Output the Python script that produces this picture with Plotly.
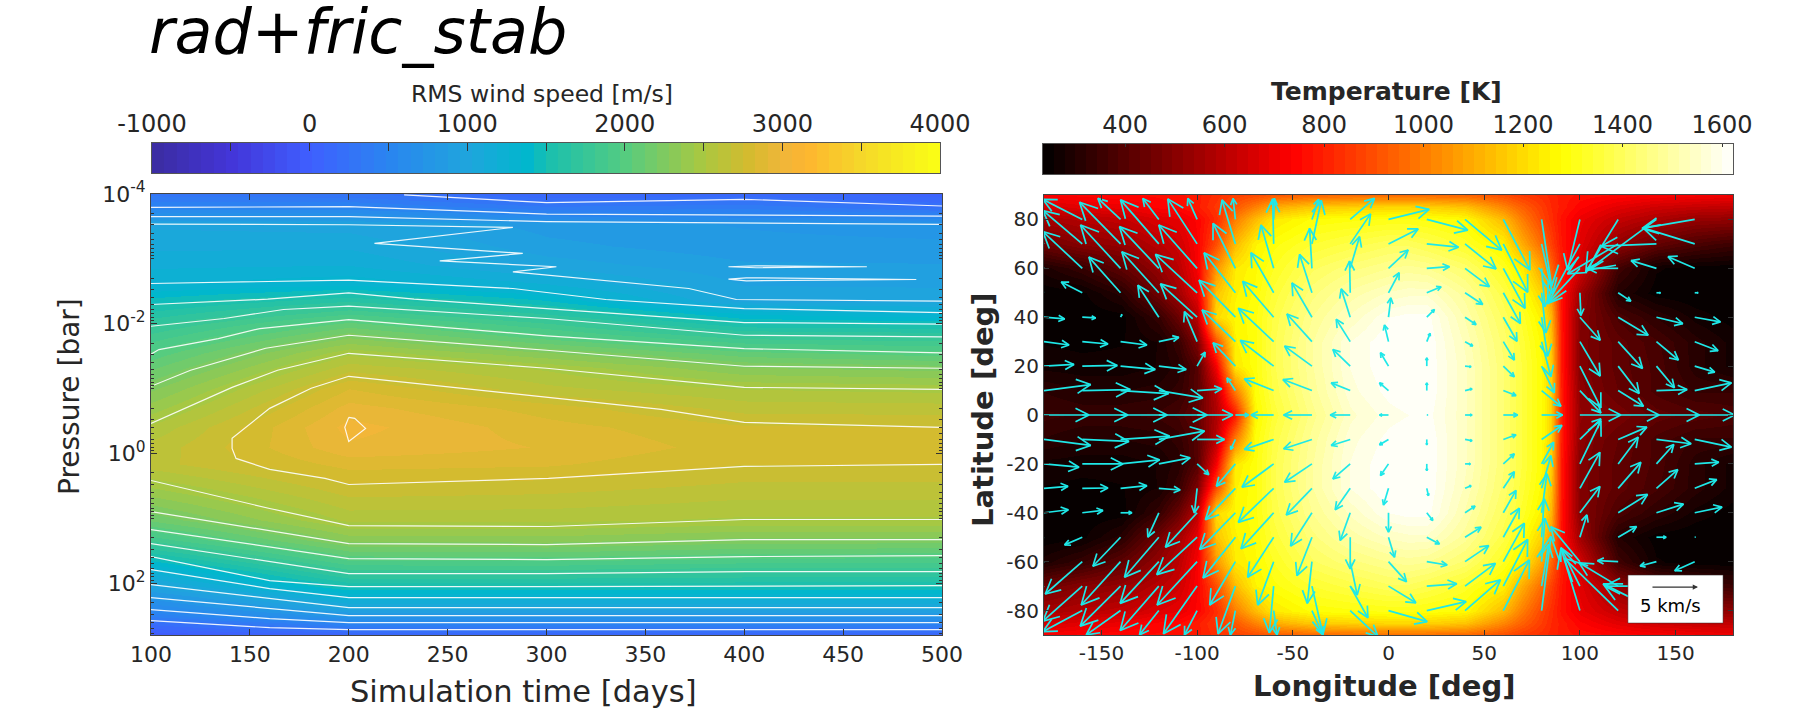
import numpy as np
import plotly.graph_objects as go

# ---------- left panel data ----------
sim_time_days = [100, 200, 300, 400, 500]
log_pressure = [-4.0, -3.8, -3.65, -3.53, -3.2, -2.9, -2.6, -2.35, -2.17, -2.0, -1.8, -1.55, -1.31, -1.0, -0.7,
                -0.4, -0.1, 0.17, 0.6, 1.02, 1.33, 1.58, 1.82, 2.04, 2.22, 2.38, 2.5, 2.61, 2.72, 2.8]
rms_t100 = [300, 490, 750, 1015, 1090, 1170, 1265, 1460, 1595, 1720, 1845, 1990, 2110, 2265, 2395,
            2530, 2620, 2640, 2400, 2140, 1835, 1515, 1220, 985, 755, 565, 425, 205, 60, -60]
rms_t200 = [270, 505, 750, 990, 1095, 1185, 1340, 1650, 1870, 2075, 2270, 2495, 2640, 2830, 2940,
            3015, 2970, 2860, 2700, 2535, 2305, 2045, 1785, 1515, 1255, 1000, 755, 500, 250, 60]
rms_t300 = [100, 340, 590, 840, 900, 1000, 1200, 1430, 1640, 1825, 2010, 2290, 2500, 2620, 2790,
            2860, 2900, 2840, 2680, 2535, 2315, 2060, 1785, 1515, 1255, 1000, 755, 500, 250, 60]
rms_t400 = [130, 380, 560, 790, 824, 888, 952, 1005, 1325, 1520, 1780, 2075, 2290, 2515, 2640,
            2760, 2790, 2750, 2625, 2500, 2250, 2010, 1750, 1515, 1255, 1000, 755, 500, 250, 60]
rms_t500 = [50, 235, 520, 750, 820, 880, 945, 1000, 1250, 1490, 1750, 2000, 2250, 2490, 2630,
            2750, 2780, 2750, 2625, 2500, 2250, 1995, 1750, 1500, 1255, 1000, 755, 500, 250, 60]

# white contour lines: (time [days], log10 pressure [bar])
contour_lines = [
    ([228, 300, 400, 500], [-3.985, -3.866, -3.918, -3.815]),
    ([100, 200, 300, 400, 500], [-3.794, -3.804, -3.691, -3.681, -3.660]),
    ([100, 200, 300, 400, 500], [-3.650, -3.650, -3.573, -3.547, -3.531]),
    ([100, 200, 283, 213, 288, 246, 305, 283, 372, 396, 500],
     [-3.537, -3.526, -3.485, -3.238, -3.084, -2.970, -2.878, -2.800, -2.543, -2.373, -2.347]),
    ([392, 406, 462, 406, 392], [-2.878, -2.893, -2.878, -2.863, -2.878]),
    ([392, 401, 487, 401, 392], [-2.687, -2.708, -2.682, -2.661, -2.687]),
    ([100, 200, 283, 330, 400, 500], [-2.620, -2.672, -2.543, -2.373, -2.234, -2.172]),
    ([100, 159, 200, 233, 300, 400, 500], [-2.296, -2.378, -2.476, -2.378, -2.234, -2.018, -1.992]),
    ([100, 137, 167, 200, 300, 400, 500], [-1.961, -2.080, -2.219, -2.270, -2.080, -1.822, -1.797]),
    ([100, 104, 134, 155, 200, 300, 400, 500], [-1.529, -1.601, -1.771, -1.925, -2.064, -1.812, -1.616, -1.549]),
    ([100, 120, 158, 200, 300, 400, 500], [-1.035, -1.282, -1.622, -1.822, -1.591, -1.344, -1.313]),
    ([100, 141, 164, 200, 300, 400, 500], [-0.463, -1.019, -1.282, -1.544, -1.313, -1.019, -0.988]),
    ([500, 400, 358, 301, 200, 181, 160, 141, 141, 143, 160, 188, 200, 301, 400, 500],
     [-0.402, -0.479, -0.680, -0.865, -1.189, -1.004, -0.695, -0.232, -0.077, 0.077, 0.247, 0.386, 0.479, 0.386,
      0.201, 0.170]),
    ([200, 203, 208.5, 200, 198, 200], [-0.556, -0.541, -0.386, -0.185, -0.402, -0.556]),
    ([100, 160, 200, 301, 400, 500], [0.417, 0.849, 1.112, 1.127, 1.019, 1.019]),
    ([100, 200, 300, 400, 500], [0.896, 1.390, 1.405, 1.328, 1.328]),
    ([100, 200, 300, 400, 500], [1.174, 1.622, 1.637, 1.591, 1.575]),
    ([100, 200, 300, 400, 500], [1.390, 1.853, 1.853, 1.822, 1.822]),
    ([100, 160, 200, 300, 500], [1.591, 1.961, 2.054, 2.054, 2.039]),
    ([100, 160, 200, 500], [1.792, 2.085, 2.224, 2.224]),
    ([100, 160, 200, 500], [2.023, 2.239, 2.378, 2.378]),
    ([100, 160, 200, 500], [2.224, 2.394, 2.502, 2.502]),
    ([100, 160, 200, 500], [2.409, 2.548, 2.610, 2.610]),
    ([100, 160, 200, 500], [2.579, 2.687, 2.718, 2.718]),
]

# ---------- right panel data ----------
map_lon = [-180, -160, -140, -120, -110, -100, -90, -80, -70, -60, -40, -20, 0, 10, 20, 40, 60, 70, 80, 85, 90,
           100, 110, 120, 140, 160, 180]
t_lat0 = [350, 340, 340, 350, 370, 430, 570, 780, 1260, 1350, 1460, 1550, 1590, 1600, 1610, 1540, 1430, 1360, 1275, 1180, 800, 520, 500, 470, 420, 400, 380]
t_lat10 = [320, 300, 300, 310, 330, 400, 600, 1000, 1280, 1370, 1480, 1570, 1610, 1620, 1620, 1540, 1430, 1360, 1275, 1180, 800, 510, 460, 430, 380, 340, 340]
t_lat20 = [270, 265, 265, 280, 310, 400, 720, 1230, 1290, 1380, 1490, 1580, 1620, 1620, 1620, 1540, 1430, 1360, 1275, 1170, 790, 490, 450, 420, 380, 310, 270]
t_lat30 = [255, 250, 255, 280, 340, 480, 900, 1250, 1290, 1380, 1490, 1580, 1620, 1620, 1620, 1530, 1420, 1350, 1265, 1150, 790, 490, 450, 420, 370, 310, 270]
t_lat40 = [240, 240, 245, 340, 440, 600, 1200, 1260, 1290, 1370, 1470, 1540, 1600, 1610, 1610, 1510, 1400, 1330, 1240, 1120, 780, 500, 440, 380, 320, 270, 245]
t_lat50 = [240, 250, 310, 460, 550, 690, 1150, 1250, 1280, 1350, 1440, 1500, 1540, 1550, 1550, 1480, 1370, 1290, 1180, 1050, 770, 550, 420, 300, 245, 235, 235]
t_lat60 = [290, 340, 420, 530, 600, 720, 1050, 1230, 1270, 1320, 1400, 1440, 1470, 1480, 1470, 1420, 1320, 1240, 1080, 950, 800, 650, 500, 360, 260, 245, 240]
t_lat70 = [450, 500, 530, 600, 640, 730, 900, 1130, 1250, 1290, 1340, 1370, 1400, 1400, 1380, 1330, 1250, 1100, 960, 870, 780, 680, 600, 520, 430, 380, 350]
t_lat80 = [560, 590, 620, 670, 690, 740, 830, 1000, 1130, 1230, 1280, 1290, 1300, 1300, 1290, 1270, 1130, 1000, 880, 830, 770, 700, 660, 620, 570, 530, 520]
t_lat85 = [650, 680, 700, 740, 750, 790, 850, 920, 1010, 1100, 1160, 1180, 1190, 1190, 1180, 1150, 1020, 940, 860, 820, 790, 740, 710, 680, 640, 620, 610]
t_lat90 = [730, 740, 750, 760, 770, 790, 830, 870, 890, 920, 950, 960, 960, 960, 960, 950, 900, 860, 830, 810, 790, 770, 760, 750, 730, 720, 710]
map_lat_north = [0, 10, 20, 30, 40, 50, 60, 70, 80, 85, 90]

# wind vectors: rows lat 80 -> -80, columns lon -180 -> 160
wind_lon = [-180, -160, -140, -120, -100, -80, -60, -40, -20, 0, 20, 40, 60, 80, 100, 120, 140, 160]
wind_lat = [80, 70, 60, 50, 40, 30, 20, 10, 0, -10, -20, -30, -40, -50, -60, -70, -80]
READ_UNIT_KMS = 5 / 147  # km/s per unit of the two tables below
wind_u = [
    [-100, -118, -68, -48, -28, -7, 2, 20, 73, 122, 123, 110, 80, 30, -37, -97, -206, -158],
    [-100, -118, -123, -115, -88, -40, -3, 28, 61, 89, 95, 93, 73, 33, -97, -152, -166, -155],
    [-100, -118, -120, -118, -115, -67, -38, -7, 28, 59, 68, 73, 65, 10, -97, -92, -76, -80],
    [-60, -63, -95, -111, -125, -94, -68, -37, -2, 32, 43, 53, 51, 13, 3, 38, 12, 10],
    [62, 40, 4, -63, -110, -109, -93, -60, -27, 7, 23, 33, 41, 18, 61, 90, 79, 77],
    [75, 77, 79, 60, -38, -100, -106, -75, -42, -12, 10, 23, 33, 28, 61, 73, 66, 70],
    [90, 105, 104, 82, 24, -67, -100, -82, -52, -24, 0, 18, 33, 38, 63, 63, 54, 60],
    [140, 144, 144, 132, 74, -25, -88, -87, -57, -27, 0, 21, 38, 58, 63, 76, 92, 110],
    [135, 137, 140, 145, 107, 40, -68, -85, -60, -27, 3, 21, 43, 63, 123, 123, 129, 120],
    [140, 140, 147, 137, 82, -14, -88, -85, -57, -27, 0, 21, 38, 61, 63, 86, 104, 110],
    [105, 122, 117, 94, 35, -57, -95, -82, -52, -24, 0, 16, 33, 36, 63, 60, 52, 72],
    [72, 77, 79, 64, -8, -90, -106, -77, -45, -15, 5, 18, 33, 28, 60, 68, 64, 66],
    [73, 62, 34, -33, -95, -107, -98, -64, -30, 0, 18, 30, 38, 16, 60, 88, 81, 82],
    [-60, -53, -83, -103, -121, -97, -78, -45, 0, 18, 38, 48, 48, 8, 21, 55, 29, 2],
    [-100, -111, -118, -116, -120, -77, -48, -14, 21, 54, 61, 71, 63, 10, -87, -62, -49, -60],
    [-100, -118, -121, -116, -101, -52, -13, 33, 53, 82, 90, 91, 73, 21, -57, -117, -156, -150],
    [-100, -118, -103, -58, -38, -15, 10, 33, 83, 116, 118, 106, 78, 28, -57, -162, -160, -160],
]
wind_v = [
    [50, 60, 63, 63, 63, 63, 63, 60, 63, 30, -32, -92, -152, -200, -152, -157, -152, -27],
    [90, 100, 125, 132, 135, 132, 135, 130, 90, 45, -10, -75, -145, -150, -180, -90, -7, 48],
    [90, 110, 130, 125, 130, 135, 130, 120, 95, 55, 5, -55, -120, -115, -105, 0, 23, 35],
    [25, 32, 107, 123, 115, 120, 120, 115, 95, 60, 18, -35, -92, -120, -68, -25, 0, 0],
    [-5, -2, 8, 96, 100, 111, 108, 103, 85, 58, 23, -22, -72, -117, -69, -54, -19, -14],
    [-10, -7, -10, 13, 90, 95, 100, 83, 67, 50, 25, -13, -55, -105, -103, -80, -55, -27],
    [5, 2, -10, -10, 42, 70, 77, 60, 50, 40, 25, -2, -32, -80, -125, -82, -65, -18],
    [18, 3, -9, -22, 5, 38, 35, 33, 23, 23, 23, 5, -15, -47, -67, -47, 3, 23],
    [0, 0, 0, 0, 0, 0, 0, 0, 0, 0, 0, 0, 0, 0, 0, 0, 0, 0],
    [-18, -6, 10, 25, 0, -30, -30, -28, -18, -16, -16, -4, 14, 42, 62, 37, -13, -23],
    [-10, 0, 12, 18, -32, -67, -70, -55, -45, -35, -20, 0, 30, 65, 130, 80, 58, 5],
    [6, 1, 8, -5, -74, -94, -102, -80, -64, -50, -22, 8, 50, 98, 108, 78, 56, 26],
    [9, 7, 0, -73, -103, -110, -108, -100, -83, -58, -23, 20, 67, 117, 79, 55, 26, 17],
    [-25, -23, -87, -120, -112, -122, -120, -115, -95, -60, -20, 30, 87, 115, 67, 32, 0, 0],
    [-90, -97, -130, -125, -130, -130, -130, -125, -100, -60, -10, 48, 115, 130, 105, 3, -13, -27],
    [-90, -105, -120, -133, -143, -143, -140, -145, -95, -50, 7, 68, 140, 125, 115, 70, 0, -40],
    [-50, -63, -73, -73, -73, -73, -73, -73, -78, -33, 27, 92, 152, 222, 187, 157, 80, 30],
]

# colour anchors and colour bar ticks
rms_cbar_vals = [-1000, -500, 0, 500, 1000, 1400, 1500, 2000, 2500, 2800, 3000, 3150, 3500, 4000]
rms_cbar_cols = ["#3b2ca0", "#4335d8", "#3f5fff", "#2a85f0", "#1fa5dd", "#00b8cc", "#18bfb0", "#55cc80",
                 "#aac840", "#d6ba2e", "#f0b63a", "#feb52f", "#f5d82a", "#faff14"]
rms_cbar_ticks = [-1000, 0, 1000, 2000, 3000, 4000]
rms_cbar_minor = [-500, 500, 1500, 2500, 3500]
temp_cbar_vals = [235, 737, 1275, 1622]
temp_cbar_cols = ["#000000", "#ff0000", "#ffff00", "#ffffff"]
temp_cbar_ticks = [400, 600, 800, 1000, 1200, 1400, 1600]
N_STEPS = 64


def stepped(vals, cols, n=N_STEPS):
    rgb = np.array([[int(c[i:i + 2], 16) for i in (1, 3, 5)] for c in cols], float)
    f = (np.array(vals, float) - vals[0]) / (vals[-1] - vals[0])
    out = []
    for i in range(n):
        m = (i + 0.5) / n
        c = [int(round(np.interp(m, f, rgb[:, k]))) for k in range(3)]
        s = f"rgb({c[0]},{c[1]},{c[2]})"
        out += [[i / n, s], [(i + 1) / n, s]]
    return out


W, H = 1798, 726
L_X = (151, 942)
R_X = (1044, 1733)
L_Y = (194, 635)
R_Y = (195, 635)
LC_X = (152, 940)
RC_X = (1043, 1733)
LC_Y = (143, 173)
RC_Y = (144, 174)
DARK = "#262626"
FONT = "DejaVu Sans"


def fx(a):
    return [a[0] / W, a[1] / W]


def fy(a):
    return [1 - a[1] / H, 1 - a[0] / H]


def page_text(text, x, y, size, angle=0, color=DARK, anchor="center"):
    return dict(text=text, x=x / W, y=1 - y / H, xref="paper", yref="paper", xanchor=anchor, yanchor="middle",
                showarrow=False, textangle=angle, font=dict(family=FONT, size=size, color=color))


fig = go.Figure()

# --- left field ---
rms_scale = stepped(rms_cbar_vals, rms_cbar_cols)
temp_scale = stepped(temp_cbar_vals, temp_cbar_cols)
rms_table = np.array([rms_t100, rms_t200, rms_t300, rms_t400, rms_t500]).T
pressure = 10.0 ** np.array(log_pressure)
fig.add_trace(go.Heatmap(x=sim_time_days, y=pressure, z=rms_table, zsmooth="best", zmin=-1000, zmax=4000,
                         colorscale=rms_scale, showscale=False, xaxis="x", yaxis="y", hoverinfo="skip"))

for t_line, p_line in contour_lines:
    fig.add_trace(go.Scatter(x=t_line, y=10.0 ** np.array(p_line), mode="lines", xaxis="x", yaxis="y",
                             line=dict(color="rgba(255,255,255,0.9)", width=1.2), showlegend=False,
                             hoverinfo="skip"))

# --- right field ---
north = [t_lat0, t_lat10, t_lat20, t_lat30, t_lat40, t_lat50, t_lat60, t_lat70, t_lat80, t_lat85, t_lat90]
temp_table = north[:0:-1] + north
map_lat = [-v for v in map_lat_north[:0:-1]] + map_lat_north
fig.add_trace(go.Heatmap(x=map_lon, y=map_lat, z=temp_table, zsmooth="best", zmin=235, zmax=1622,
                         colorscale=temp_scale, showscale=False, xaxis="x2", yaxis="y2", hoverinfo="skip"))

# --- colour bars, on axes of their own so that the labels can sit on top as in the reference ---
rms_levels = np.linspace(-1000, 4000, N_STEPS + 1)
rms_centres = (rms_levels[:-1] + rms_levels[1:]) / 2
temp_levels = np.linspace(235, 1622, N_STEPS + 1)
temp_centres = (temp_levels[:-1] + temp_levels[1:]) / 2
fig.add_trace(go.Heatmap(x=rms_centres, y=[0], z=[rms_centres], zmin=-1000, zmax=4000, colorscale=rms_scale,
                         showscale=False, xaxis="x3", yaxis="y3", hoverinfo="skip"))
fig.add_trace(go.Heatmap(x=temp_centres, y=[0], z=[temp_centres], zmin=235, zmax=1622, colorscale=temp_scale,
                         showscale=False, xaxis="x4", yaxis="y4", hoverinfo="skip"))

# --- quiver, drawn through the lon/lat axes ---
LON_DEG_PER_KMS = 5.12
LAT_DEG_PER_KMS = 4.01
HEAD_BACK, HEAD_SIDE = 0.30, 0.15
qx, qy = [], []
for j, lat in enumerate(wind_lat):
    for i, lon in enumerate(wind_lon):
        u = wind_u[j][i] * READ_UNIT_KMS
        v = wind_v[j][i] * READ_UNIT_KMS
        bx1, by1 = u - HEAD_BACK * u - HEAD_SIDE * v, v - HEAD_BACK * v + HEAD_SIDE * u
        bx2, by2 = u - HEAD_BACK * u + HEAD_SIDE * v, v - HEAD_BACK * v - HEAD_SIDE * u
        qx += [lon, lon + u * LON_DEG_PER_KMS, None,
               lon + bx1 * LON_DEG_PER_KMS, lon + u * LON_DEG_PER_KMS, lon + bx2 * LON_DEG_PER_KMS, None]
        qy += [lat, lat + v * LAT_DEG_PER_KMS, None,
               lat + by1 * LAT_DEG_PER_KMS, lat + v * LAT_DEG_PER_KMS, lat + by2 * LAT_DEG_PER_KMS, None]
fig.add_trace(go.Scatter(x=qx, y=qy, mode="lines", xaxis="x2", yaxis="y2",
                         line=dict(color="#1fe8e8", width=1.7), showlegend=False, hoverinfo="skip"))

axis_common = dict(showline=True, mirror="ticks", linecolor="#444444", linewidth=1, ticks="inside",
                   tickcolor="#333333", showgrid=False, zeroline=False)
cbar_axis = dict(showline=True, mirror=True, linecolor="#555555", linewidth=1, ticks="inside",
                 tickcolor="#333333", showgrid=False, zeroline=False, side="top")
minor_vals = [m * 10.0 ** k for k in range(-4, 3) for m in range(2, 10) if m * 10.0 ** k < 630] + [1e-3, 1e-1, 10]
lon_ticks = [-150, -100, -50, 0, 50, 100, 150]
lat_ticks = list(range(-80, 81, 20))
fig.update_layout(
    width=W, height=H, autosize=False, margin=dict(l=0, r=0, t=0, b=0, autoexpand=False),
    paper_bgcolor="white", plot_bgcolor="white", showlegend=False, font=dict(family=FONT, color=DARK),
    xaxis=dict(domain=fx(L_X), range=[100, 500], tickvals=list(range(100, 501, 50)), ticklen=6,
               tickfont=dict(size=22), anchor="y", **axis_common),
    yaxis=dict(domain=fy(L_Y), type="log", range=[2.8, -4], tickvals=[1e-4, 1e-2, 1, 100],
               ticktext=["10<sup>-4</sup>", "10<sup>-2</sup>", "10<sup>0</sup>", "10<sup>2</sup>"], ticklen=6,
               tickfont=dict(size=22),
               minor=dict(tickvals=minor_vals, ticks="inside", ticklen=3, tickcolor="#333333"),
               anchor="x", **axis_common),
    xaxis2=dict(domain=fx(R_X), range=[-180, 180], tickvals=lon_ticks, ticktext=[str(v) for v in lon_ticks],
                ticklen=5, tickfont=dict(size=20), anchor="y2", **axis_common),
    yaxis2=dict(domain=fy(R_Y), range=[-90, 90], tickvals=lat_ticks, ticktext=[str(v) for v in lat_ticks],
                ticklen=5, tickfont=dict(size=20), anchor="x2", **axis_common),
    xaxis3=dict(domain=fx(LC_X), range=[-1000, 4000], tickvals=rms_cbar_ticks,
                ticktext=[str(v) for v in rms_cbar_ticks], ticklen=8, tickfont=dict(size=24),
                minor=dict(tickvals=rms_cbar_minor, ticks="inside", ticklen=8, tickcolor="#333333"),
                anchor="y3", **cbar_axis),
    yaxis3=dict(domain=fy(LC_Y), range=[-0.5, 0.5], showticklabels=False, ticks="", showline=True, mirror=True,
                linecolor="#555555", showgrid=False, zeroline=False, anchor="x3"),
    xaxis4=dict(domain=fx(RC_X), range=[235, 1622], tickvals=temp_cbar_ticks,
                ticktext=[str(v) for v in temp_cbar_ticks], ticklen=3, tickfont=dict(size=24),
                anchor="y4", **cbar_axis),
    yaxis4=dict(domain=fy(RC_Y), range=[-0.5, 0.5], showticklabels=False, ticks="", showline=True, mirror=True,
                linecolor="#555555", showgrid=False, zeroline=False, anchor="x4"),
    annotations=[
        page_text("<i>rad+fric_stab</i>", 147, 31, 62, color="black", anchor="left"),
        page_text("RMS wind speed [m/s]", 542, 94, 23.5),
        page_text("<b>Temperature [K]</b>", 1386, 92, 25),
        page_text("Simulation time [days]", 523, 691, 30.5),
        page_text("Pressure [bar]", 69, 397, 28, angle=-90),
        page_text("<b>Longitude [deg]</b>", 1384, 686, 29),
        page_text("<b>Latitude [deg]</b>", 983, 410, 29, angle=-90),
        dict(text="5 km/s", x=147.6, y=-77.8, xref="x2", yref="y2", showarrow=False,
             font=dict(family=FONT, size=18, color="black")),
        dict(text=" ", x=161.7, y=-70.4, ax=136.1, ay=-70.4, xref="x2", yref="y2", axref="x2", ayref="y2",
             showarrow=True, arrowhead=2, arrowsize=0.8, arrowwidth=1.3, arrowcolor="#333333"),
    ],
    shapes=[dict(type="rect", x0=125.1, x1=174.8, y0=-85.1, y1=-65.5, xref="x2", yref="y2", layer="above",
                 fillcolor="white", line=dict(color="#333333", width=0.5))],
)

fig.write_html("out.html", config={"displayModeBar": False}, post_script="document.body.style.margin='0';")
